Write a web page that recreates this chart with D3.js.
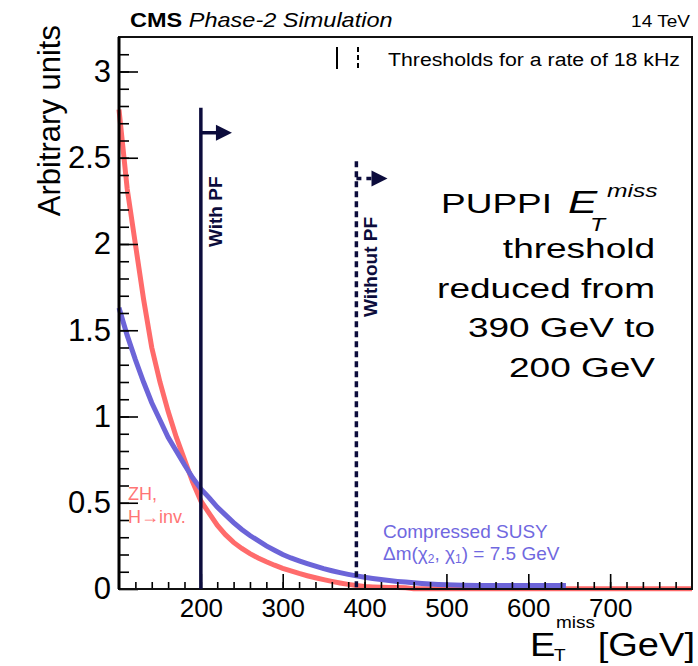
<!DOCTYPE html>
<html>
<head>
<meta charset="utf-8">
<script src="https://cdn.jsdelivr.net/npm/d3@7"></script>
<style>
  body { margin: 0; background: #fff; }
  text { font-family: "Liberation Sans", Arial, Helvetica, sans-serif; }
  .axis path { display: none; }
  .axis line { stroke: #000; stroke-width: 1.6; }
  .axis text { fill: #000; }
</style>
</head>
<body>
<script>
// ZH, H->inv. histogram (E_T^miss in GeV, arbitrary units)
var zhMet = [100, 110, 120, 130, 140, 150, 160, 170, 180, 190, 200, 210, 220, 230, 240, 250, 260, 270, 280, 290,
             300, 310, 320, 330, 340, 350, 360, 370, 380, 390, 400, 410, 420, 430, 440, 450, 460, 800];
var zhArb = [2.78, 2.32, 2.00, 1.68, 1.40, 1.20, 1.03, 0.88, 0.75, 0.62, 0.51, 0.44, 0.37, 0.315, 0.27, 0.235, 0.205, 0.18, 0.158, 0.138,
             0.12, 0.105, 0.09, 0.077, 0.065, 0.054, 0.044, 0.035, 0.027, 0.02, 0.015, 0.012, 0.01, 0.009, 0.008, 0.007, 0.002, 0.002];

// Compressed SUSY histogram
var susyMet = [100, 110, 120, 130, 140, 150, 160, 170, 180, 190, 200, 210, 220, 230, 240, 250, 260, 270, 280, 290,
               300, 310, 320, 330, 340, 350, 360, 370, 380, 390, 400, 410, 420, 430, 440, 450, 460, 470, 480, 490,
               500, 520, 540, 646];
var susyArb = [1.63, 1.47, 1.33, 1.20, 1.08, 0.98, 0.88, 0.80, 0.72, 0.645, 0.58, 0.53, 0.475, 0.43, 0.385, 0.345, 0.31, 0.28, 0.25, 0.225,
               0.20, 0.18, 0.163, 0.147, 0.132, 0.118, 0.106, 0.095, 0.085, 0.076, 0.068, 0.061, 0.055, 0.049, 0.044, 0.04, 0.036, 0.032, 0.029, 0.026,
               0.024, 0.022, 0.02, 0.02];

// thresholds: with PF, without PF
var thrNames = ["With PF", "Without PF"];
var thrMet = [200, 390];
var thrTop = [2.79, 2.48];
var thrArrow = [2.645, 2.38];
var arrowLen = 38;

var xTickLabels = [200, 300, 400, 500, 600, 700];
var yTickLabels = [0, 0.5, 1, 1.5, 2, 2.5, 3];

var width = 698, height = 666;
var margin = {top: 37, left: 119, right: 6, bottom: 77};
var red = "#ff6b6b", blue = "#6c64d8", navy = "#0c0c3c";
var sx = 1.12; // text in the picture is slightly wide

var svg = d3.select("body")
            .append("svg")
            .attr("width", width)
            .attr("height", height);

var xScale = d3.scaleLinear()
               .domain([100, 800])
               .range([margin.left, width - margin.right]);

var yScale = d3.scaleLinear()
               .domain([0, 3.2])
               .range([height - margin.bottom, margin.top]);

//helper for horizontally stretched text
function wideText(x, y, anchor, size, k) {
  return svg.append("text")
            .attr("transform", "translate(" + x + "," + y + ") scale(" + (k || sx) + ",1)")
            .attr("text-anchor", anchor)
            .attr("font-size", size);
}

//Curves
var line = d3.line()
             .x(function(d) { return xScale(d[0]); })
             .y(function(d) { return yScale(d[1]); });

svg.append("path")
   .datum(d3.zip(zhMet, zhArb))
   .attr("d", line)
   .attr("fill", "none")
   .attr("stroke", red)
   .attr("stroke-width", 5);

svg.append("path")
   .datum(d3.zip(susyMet, susyArb))
   .attr("d", line)
   .attr("fill", "none")
   .attr("stroke", blue)
   .attr("stroke-width", 5);

//X axis (minor + major, ticks inside)
svg.append("g")
   .attr("class", "axis")
   .attr("transform", "translate(0," + yScale(0) + ")")
   .call(d3.axisBottom(xScale).tickValues(d3.range(120, 800, 20)).tickSize(-7).tickFormat(""));

var xAxis = svg.append("g")
   .attr("class", "axis")
   .attr("transform", "translate(0," + yScale(0) + ")")
   .call(d3.axisBottom(xScale).tickValues(xTickLabels).tickSize(-15).tickPadding(10));
xAxis.selectAll("text").attr("font-size", 26).attr("font-family", "Liberation Sans, Arial, sans-serif");

//Y axis
svg.append("g")
   .attr("class", "axis")
   .attr("transform", "translate(" + xScale(100) + ",0)")
   .call(d3.axisLeft(yScale).tickValues(d3.range(0.1, 3.2, 0.1)).tickSize(-10).tickFormat(""));

var yAxis = svg.append("g")
   .attr("class", "axis")
   .attr("transform", "translate(" + xScale(100) + ",0)")
   .call(d3.axisLeft(yScale).tickValues(yTickLabels).tickSize(-19).tickPadding(8).tickFormat(d3.format("~g")));
yAxis.selectAll("text").attr("font-size", 31).attr("font-family", "Liberation Sans, Arial, sans-serif");

//Frame
svg.append("rect")
   .attr("x", xScale(100))
   .attr("y", yScale(3.2))
   .attr("width", xScale(800) - xScale(100))
   .attr("height", yScale(0) - yScale(3.2))
   .attr("fill", "none")
   .attr("stroke", "#111")
   .attr("stroke-width", 2);
svg.append("line")
   .attr("x1", xScale(100)).attr("x2", xScale(100))
   .attr("y1", yScale(3.2)).attr("y2", yScale(0))
   .attr("stroke", "#000").attr("stroke-width", 3);

//Threshold lines and arrows
thrMet.forEach(function(m, i) {
  var dash = i == 1 ? "6,4" : null;
  var xp = xScale(m), ya = yScale(thrArrow[i]);
  var xe = xScale(m + arrowLen);
  svg.append("line")
     .attr("x1", xp).attr("x2", xp)
     .attr("y1", yScale(thrTop[i])).attr("y2", yScale(0))
     .attr("stroke", navy)
     .attr("stroke-width", 3.5)
     .attr("stroke-dasharray", dash);
  svg.append("line")
     .attr("x1", xp).attr("x2", xe - 12)
     .attr("y1", ya).attr("y2", ya)
     .attr("stroke", navy)
     .attr("stroke-width", 3.5)
     .attr("stroke-dasharray", i == 1 ? "5,5" : null);
  svg.append("path")
     .attr("d", "M" + (xe - 16) + "," + (ya - 8) + "L" + xe + "," + ya + "L" + (xe - 16) + "," + (ya + 8) + "Z")
     .attr("fill", navy);
  svg.append("text")
     .attr("transform", "translate(" + (xp + 21) + "," + (i == 0 ? 247 : 317) + ") rotate(-90)")
     .attr("font-size", 19)
     .attr("font-weight", "bold")
     .attr("fill", navy)
     .text(thrNames[i]);
});

//Title
var title = wideText(130, 27, "start", 21);
title.append("tspan").attr("font-weight", "bold").text("CMS ");
title.append("tspan").attr("font-style", "italic").text("Phase-2 Simulation");
wideText(690, 27, "end", 17).text("14 TeV");

//Legend
svg.append("line")
   .attr("x1", 337).attr("x2", 337).attr("y1", 47).attr("y2", 69)
   .attr("stroke", "#000").attr("stroke-width", 2);
svg.append("line")
   .attr("x1", 358).attr("x2", 358).attr("y1", 47).attr("y2", 69)
   .attr("stroke", "#000").attr("stroke-width", 2).attr("stroke-dasharray", "5,3");
wideText(388, 66, "start", 19).text("Thresholds for a rate of 18 kHz");

//Curve labels
svg.append("text").attr("x", 128).attr("y", 500).attr("font-size", 18).attr("fill", "#ff7575").text("ZH,");
svg.append("text").attr("x", 128).attr("y", 523).attr("font-size", 18).attr("fill", "#ff7575").text("H\u2192inv.");
svg.append("text").attr("x", 383).attr("y", 538).attr("font-size", 19).attr("fill", "#7068e0").text("Compressed SUSY");
var dm = svg.append("text").attr("x", 383).attr("y", 560).attr("font-size", 19).attr("fill", "#7068e0");
dm.append("tspan").text("\u0394m(\u03c7");
dm.append("tspan").attr("font-size", 12).attr("dy", 3).text("2");
dm.append("tspan").attr("dy", -3).text(", \u03c7");
dm.append("tspan").attr("font-size", 12).attr("dy", 3).text("1");
dm.append("tspan").attr("dy", -3).text(") = 7.5 GeV");

//Axis titles
svg.append("text")
   .attr("transform", "translate(60,25) rotate(-90)")
   .attr("text-anchor", "end")
   .attr("font-size", 31)
   .text("Arbitrary units");

wideText(695, 656, "end", 34).text("[GeV]");
wideText(530, 656, "start", 34).text("E");
wideText(556, 628, "start", 17).text("miss");
wideText(554, 661, "start", 17).text("T");

//Annotation
var k = 1.37;
wideText(552, 213, "end", 27, k).text("PUPPI");
wideText(568, 213, "start", 32, k).attr("font-family", "Liberation Serif, serif").attr("font-style", "italic").text("E");
wideText(607, 197, "start", 18, k).attr("font-family", "Liberation Serif, serif").attr("font-style", "italic").text("miss");
wideText(590, 231, "start", 18, k).attr("font-family", "Liberation Serif, serif").attr("font-style", "italic").text("T");
["threshold", "reduced from", "390 GeV to", "200 GeV"].forEach(function(s, i) {
  wideText(655, 258 + i * 39.7, "end", 27, k).text(s);
});
</script>
</body>
</html>
